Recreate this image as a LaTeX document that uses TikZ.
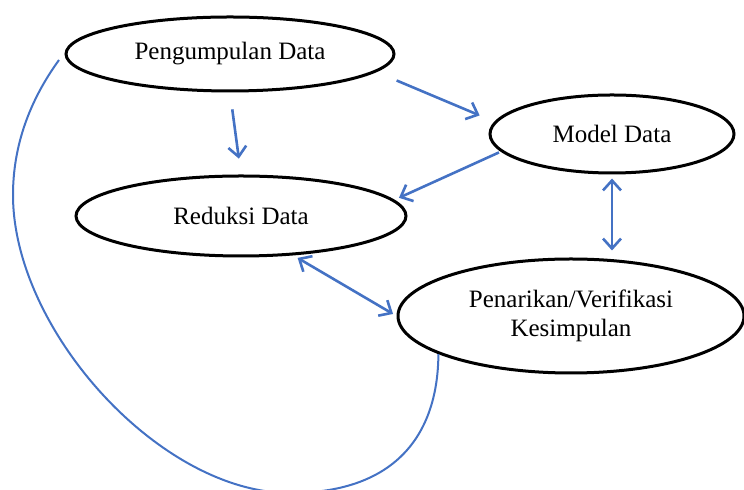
\documentclass[tikz,border=0pt]{standalone}
\usepackage{fontspec}
\setmainfont{Liberation Serif}
\usetikzlibrary{shapes.geometric,arrows.meta}
\definecolor{lineblue}{HTML}{4472C4}
\begin{document}
\begin{tikzpicture}[x=0.5pt,y=-0.5pt,
  stage/.style={draw=black,line width=1.5pt,ellipse,inner sep=0pt,
    font=\fontsize{12.5pt}{14.5pt}\selectfont,align=center},
  flow/.style={draw=lineblue,line width=1.3pt,
    arrows={-Straight Barb[length=5pt,width=9pt,line width=1.3pt]}},
  twoway/.style={draw=lineblue,line width=1.3pt,
    arrows={Straight Barb[length=5pt,width=9pt,line width=1.3pt]-Straight Barb[length=5pt,width=9pt,line width=1.3pt]}},
  loopline/.style={draw=lineblue,line width=1pt}]
\useasboundingbox (0,0) rectangle (744,490);
\clip (0,0) rectangle (744,490);
\node[stage,minimum width=164pt,minimum height=37pt] (pd) at (230,54) {Pengumpulan Data};
\node[stage,minimum width=122pt,minimum height=39pt] (md) at (612,134) {Model Data};
\node[stage,minimum width=165pt,minimum height=40pt] (rd) at (241,216) {Reduksi Data};
\node[stage,minimum width=173pt,minimum height=57pt] (pk) at (571,316) {Penarikan/Verifikasi\\Kesimpulan};
\coordinate (cs) at (59,60);
\coordinate (cl) at (13,195);
\coordinate (cb) at (290,493);
% connectors
\draw[flow,shorten <=8.5pt,shorten >=8pt] (pd.south) -- (rd.north);
\draw[flow,shorten <=11pt,shorten >=8pt] (pd.-7) -- (md.174);
\draw[flow,shorten <=1pt,shorten >=2.5pt] (md.189) -- (rd.6);
\draw[twoway,shorten <=2pt,shorten >=3.5pt] (md.south) -- (md.south |- pk.north);
\draw[twoway,shorten <=2.5pt,shorten >=2pt] (rd.-37) -- (pk.west);
\draw[loopline] (cs) .. controls (30,100) and (13,145) .. (cl)
  .. controls (13,330) and (160,493) .. (cb)
  .. controls (400,493) and (438,430) .. (pk.196);
\end{tikzpicture}
\end{document}
